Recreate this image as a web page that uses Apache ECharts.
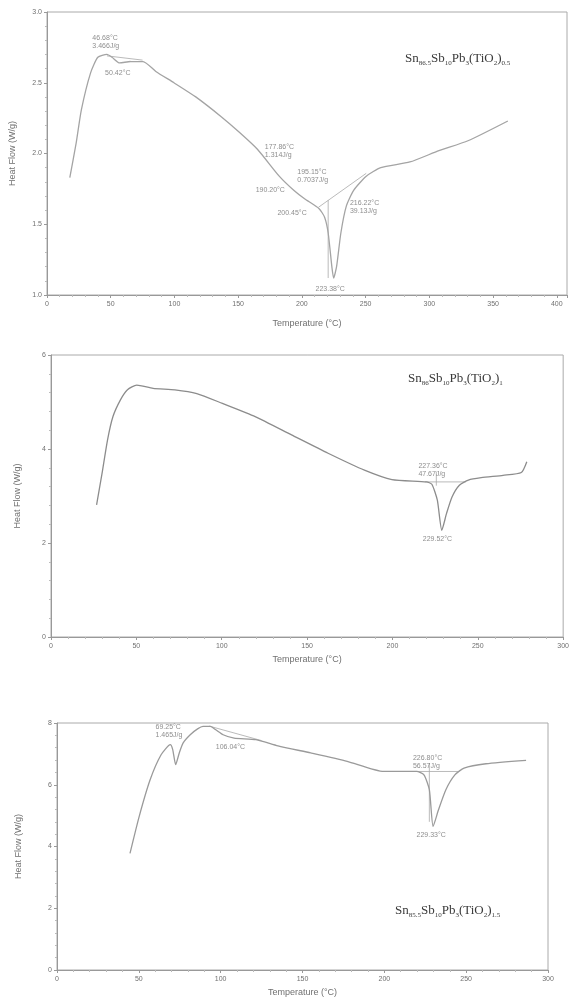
<!DOCTYPE html>
<html>
<head>
<meta charset="utf-8">
<script src="https://cdn.jsdelivr.net/npm/echarts@6/dist/echarts.min.js"></script>
<style>
  html, body { margin: 0; padding: 0; background: #fff; }
  #main { width: 572px; height: 998px; }
</style>
</head>
<body>
<div id="main"></div>
<script>
// panel 1: Sn86.5Sb10Pb3(TiO2)0.5
const p1Temp = [17.9, 22.8, 27, 34.2, 39.9, 47, 51, 57, 65.5, 75.4, 85.4, 99.6, 116.7, 136.7, 150.9, 165.1, 182.2, 193.6, 202.1, 213.5, 217.8, 220.6, 223.5, 224.9, 227.2, 230.6, 234.9, 240.6, 250.5, 261.9, 284.7, 307.5, 330.3, 361.6];
const p1Flow = [1.83, 2.07, 2.31, 2.57, 2.68, 2.70, 2.68, 2.64, 2.65, 2.65, 2.58, 2.50, 2.40, 2.26, 2.15, 2.03, 1.84, 1.74, 1.68, 1.61, 1.55, 1.44, 1.20, 1.12, 1.20, 1.44, 1.63, 1.74, 1.84, 1.90, 1.94, 2.02, 2.09, 2.23];
const p1Guides = [
  [[47, 2.69], [75, 2.66]],
  [[213, 1.62], [250.5, 1.86]],
  [[220.6, 1.67], [220.6, 1.12]]
];
const p1Notes = [
  [35.6, 2.79, '46.68°C\n3.466J/g'],
  [45.6, 2.57, '50.42°C'],
  [170.9, 2.02, '177.86°C\n1.314J/g'],
  [196.4, 1.84, '195.15°C\n0.7037J/g'],
  [163.7, 1.74, '190.20°C'],
  [180.8, 1.58, '200.45°C'],
  [237.7, 1.62, '216.22°C\n39.13J/g'],
  [210.7, 1.04, '223.38°C']
];

// panel 2: Sn86Sb10Pb3(TiO2)1
const p2Temp = [26.7, 29.9, 33.1, 36.3, 40.6, 44.8, 50.2, 59.8, 72.6, 85.4, 100.4, 119.6, 140.9, 162.3, 183.6, 199.7, 219.9, 223.1, 226.3, 228.9, 231.7, 234.9, 239.2, 244.5, 252, 264.8, 275.5, 278.7];
const p2Flow = [2.81, 3.48, 4.19, 4.69, 5.04, 5.26, 5.36, 5.29, 5.26, 5.18, 4.97, 4.69, 4.30, 3.91, 3.55, 3.35, 3.30, 3.25, 2.91, 2.27, 2.63, 2.98, 3.23, 3.34, 3.39, 3.44, 3.50, 3.73];
const p2Guides = [
  [[219, 3.30], [243, 3.30]],
  [[225.7, 3.52], [225.7, 3.22]]
];
const p2Notes = [
  [215.2, 3.56, '227.36°C\n47.67J/g'],
  [217.8, 2.08, '229.52°C']
];

// panel 3: Sn85.5Sb10Pb3(TiO2)1.5
const p3Temp = [44.6, 50.2, 56.9, 63.6, 69.2, 70.7, 72.5, 74.7, 77, 81.4, 85.9, 89.2, 93.7, 97, 101.5, 108.2, 121.6, 135, 155, 177.3, 199.6, 219.7, 224.2, 227.5, 229.8, 233.1, 237.6, 243.1, 248.7, 262.1, 286.6];
const p3Flow = [3.78, 4.97, 6.16, 6.97, 7.30, 7.14, 6.65, 7.03, 7.35, 7.62, 7.81, 7.89, 7.89, 7.78, 7.62, 7.51, 7.46, 7.26, 7.03, 6.76, 6.43, 6.43, 6.32, 5.84, 4.65, 5.19, 5.84, 6.32, 6.54, 6.68, 6.79];
const p3Guides = [
  [[93, 7.9], [125, 7.43]],
  [[219, 6.43], [245, 6.43]],
  [[227.5, 6.70], [227.5, 4.8]]
];
const p3Notes = [
  [60.2, 7.75, '69.25°C\n1.465J/g'],
  [97, 7.22, '106.04°C'],
  [217.5, 6.74, '226.80°C\n56.57J/g'],
  [219.7, 4.36, '229.33°C']
];

const xTicks1 = { min: 0, max: 408, interval: 50 };
const xTicks2 = { min: 0, max: 300, interval: 50 };
const xTicks3 = { min: 0, max: 300, interval: 50 };
const yTicks1 = { min: 1, max: 3, interval: 0.5 };
const yTicks2 = { min: 0, max: 6, interval: 2 };
const yTicks3 = { min: 0, max: 8, interval: 2 };

const chart = echarts.init(document.getElementById('main'));

const textColor = '#707070';

function xAxis(idx, t, gap) {
  return {
    type: 'value', gridIndex: idx, min: t.min, max: t.max, interval: t.interval,
    name: 'Temperature (°C)', nameLocation: 'middle', nameGap: gap,
    nameTextStyle: { color: textColor, fontSize: 9, fontFamily: 'Liberation Sans' },
    axisLine: { lineStyle: { color: '#999' } },
    axisTick: { lineStyle: { color: '#999' }, length: 3 },
    minorTick: { show: true, splitNumber: 5, length: 2, lineStyle: { color: '#bbb' } },
    axisLabel: { color: textColor, fontSize: 7, margin: 6, showMaxLabel: t.max % t.interval === 0 },
    splitLine: { show: false }
  };
}

function yAxis(idx, t, gap, digits) {
  return {
    type: 'value', gridIndex: idx, min: t.min, max: t.max, interval: t.interval,
    name: 'Heat Flow (W/g)', nameLocation: 'middle', nameGap: gap,
    nameTextStyle: { color: textColor, fontSize: 9, fontFamily: 'Liberation Sans' },
    axisLine: { show: true, lineStyle: { color: '#999' } },
    axisTick: { show: true, lineStyle: { color: '#999' }, length: 3 },
    minorTick: { show: true, splitNumber: 5, length: 2, lineStyle: { color: '#bbb' } },
    axisLabel: { color: textColor, fontSize: 7, margin: 5, formatter: (v) => v.toFixed(digits) },
    splitLine: { show: false }
  };
}

function curve(idx, temps, flows, color) {
  return {
    type: 'line', xAxisIndex: idx, yAxisIndex: idx, showSymbol: false, smooth: 0.2,
    data: temps.map((t, i) => [t, flows[i]]),
    lineStyle: { color: color, width: 1.3 }, z: 3
  };
}

function guides(idx, list) {
  return list.map((seg) => ({
    type: 'line', xAxisIndex: idx, yAxisIndex: idx, showSymbol: false,
    data: seg, lineStyle: { color: '#a8a8a8', width: 0.8 }, z: 2
  }));
}

function notes(idx, list) {
  return {
    type: 'scatter', xAxisIndex: idx, yAxisIndex: idx, symbolSize: 0,
    data: list.map((n) => ({ value: [n[0], n[1]], note: n[2] })),
    label: {
      show: true, position: [0, 0], align: 'left', verticalAlign: 'middle',
      formatter: (p) => p.data.note, color: textColor, fontSize: 7, lineHeight: 8,
      fontFamily: 'Liberation Sans'
    },
    silent: true
  };
}

// chemical formula with subscripts: even parts normal, odd parts subscript
function formula(parts, left, top) {
  const text = parts.map((p, i) => (i % 2 === 0 ? '{n|' + p + '}' : '{s|' + p + '}')).join('');
  return {
    left: left, top: top, text: text,
    textStyle: {
      fontWeight: 'normal',
      rich: {
        n: { fontSize: 13, fontFamily: 'Liberation Serif', fontWeight: 'normal', color: '#3a3a3a', lineHeight: 18 },
        s: { fontSize: 7, fontFamily: 'Liberation Serif', fontWeight: 'normal', color: '#3a3a3a', lineHeight: 18, padding: [8, 0, 0, 0] }
      }
    }
  };
}

const frame = { show: true, borderColor: '#aaa', borderWidth: 1, backgroundColor: 'transparent' };

chart.setOption({
  backgroundColor: '#fff',
  animation: false,
  title: [
    formula(['Sn', '86.5', 'Sb', '10', 'Pb', '3', '(TiO', '2', ')', '0.5'], 400, 45),
    formula(['Sn', '86', 'Sb', '10', 'Pb', '3', '(TiO', '2', ')', '1'], 403, 365),
    formula(['Sn', '85.5', 'Sb', '10', 'Pb', '3', '(TiO', '2', ')', '1.5'], 390, 897)
  ],
  grid: [
    Object.assign({ left: 44, top: 12, width: 523, height: 283 }, frame),
    Object.assign({ left: 51, top: 355, width: 513, height: 282 }, frame),
    Object.assign({ left: 57, top: 723, width: 491, height: 247 }, frame)
  ],
  xAxis: [xAxis(0, xTicks1, 24), xAxis(1, xTicks2, 18), xAxis(2, xTicks3, 18)],
  yAxis: [yAxis(0, yTicks1, 30, 1), yAxis(1, yTicks2, 29, 0), yAxis(2, yTicks3, 34, 0)],
  series: [
    curve(0, p1Temp, p1Flow, '#a4a4a4'),
    ...guides(0, p1Guides),
    notes(0, p1Notes),
    curve(1, p2Temp, p2Flow, '#8c8c8c'),
    ...guides(1, p2Guides),
    notes(1, p2Notes),
    curve(2, p3Temp, p3Flow, '#9a9a9a'),
    ...guides(2, p3Guides),
    notes(2, p3Notes)
  ]
});
</script>
</body>
</html>
